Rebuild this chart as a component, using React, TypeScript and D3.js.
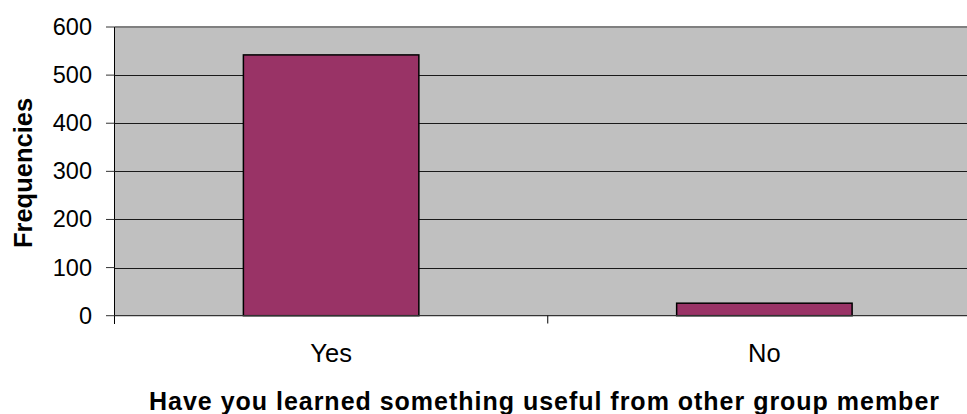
import React from "react";
import * as d3 from "d3";

const categories = ["Yes", "No"];
const frequencies = [542, 26];
const yTicks = [0, 100, 200, 300, 400, 500, 600];
const yAxisTitle = "Frequencies";
const xAxisTitle = "Have you learned something useful from other group member";

const W = 967;
const H = 414;
const plotLeft = 114.5;
const plotRight = 981;
const plotTop = 27;
const plotBottom = 315.7;
const FONT = "'Liberation Sans', Arial, Helvetica, sans-serif";

export default function App() {
  const y = d3.scaleLinear().domain([0, 600]).range([plotBottom, plotTop]);
  const x = d3.scaleBand<string>().domain(categories).range([plotLeft, plotRight]).padding(0);
  const step = x.step();
  const barW = step * 0.405;

  return (
    <svg width={W} height={H} style={{ position: "absolute", left: 0, top: 0, background: "#fff" }}>
      <rect x={plotLeft} y={plotTop} width={plotRight - plotLeft} height={plotBottom - plotTop} fill="#C0C0C0" />
      {yTicks.filter((t) => t > 0 && t < 600).map((t) => (
        <line key={"g" + t} x1={plotLeft} x2={plotRight} y1={Math.round(y(t)) + 0.5} y2={Math.round(y(t)) + 0.5} stroke="#1a1a1a" strokeWidth={1} />
      ))}
      <line x1={plotLeft} x2={plotRight} y1={plotTop} y2={plotTop} stroke="#808080" strokeWidth={2} />
      {categories.map((c, i) => (
        <rect
          key={c}
          x={x(c)! + step / 2 - barW / 2}
          y={y(frequencies[i])}
          width={barW}
          height={plotBottom - y(frequencies[i])}
          fill="#993366"
          stroke="#000"
          strokeWidth={1.5}
        />
      ))}
      <line x1={plotLeft} x2={plotLeft} y1={plotTop} y2={324} stroke="#000" strokeWidth={1} />
      <line x1={plotLeft} x2={plotRight} y1={plotBottom} y2={plotBottom} stroke="#333" strokeWidth={1.3} />
      {yTicks.map((t) => (
        <g key={"t" + t}>
          <line x1={106} x2={plotLeft} y1={y(t)} y2={y(t)} stroke="#333" strokeWidth={1} />
          <text x={92} y={y(t) + 8} textAnchor="end" fontFamily={FONT} fontSize={23.5} fill="#000">
            {t}
          </text>
        </g>
      ))}
      {categories.slice(1).map((c) => (
        <line key={"xt" + c} x1={x(c)!} x2={x(c)!} y1={plotBottom} y2={323.5} stroke="#000" strokeWidth={1} />
      ))}
      {categories.map((c) => (
        <text key={"xl" + c} x={x(c)! + step / 2} y={362.3} textAnchor="middle" fontFamily={FONT} fontSize={25.5} fill="#000">
          {c}
        </text>
      ))}
      <text
        transform={`translate(31.7,173) rotate(-90)`}
        textAnchor="middle"
        fontFamily={FONT}
        fontSize={25.5}
        fontWeight="bold"
        fill="#000"
      >
        {yAxisTitle}
      </text>
      <text
        x={149}
        y={409.7}
        textLength={790}
        lengthAdjust="spacing"
        fontFamily={FONT}
        fontSize={25}
        fontWeight="bold"
        fill="#000"
      >
        {xAxisTitle}
      </text>
    </svg>
  );
}
